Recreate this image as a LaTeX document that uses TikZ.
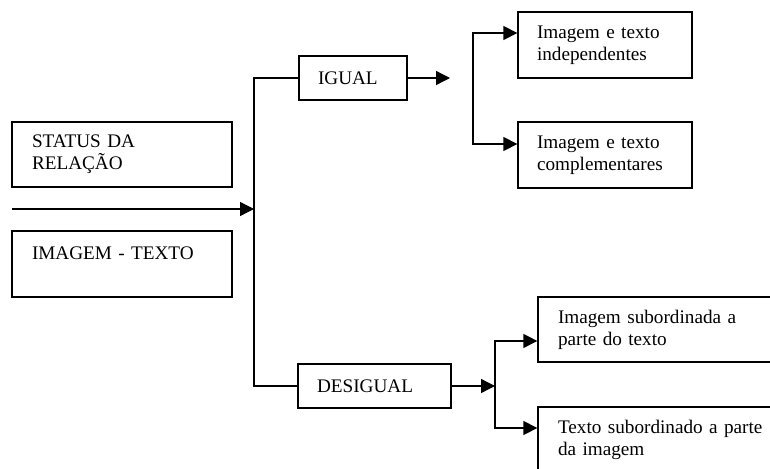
\documentclass[tikz,border=0pt]{standalone}
\usepackage{fontspec}
\setmainfont{Liberation Serif}
\usetikzlibrary{arrows.meta}
\begin{document}
\begin{tikzpicture}[x=0.75pt,y=-0.75pt,
  line width=1pt,
  font=\fontsize{14.4pt}{16.5pt}\selectfont,
  box/.style={draw, rectangle, align=left, inner xsep=15pt, inner ysep=2pt, minimum height=#1},
  box/.default=49.5pt,
  arr/.style={-{Triangle[length=10.5pt,width=10.5pt]}}]
\useasboundingbox (0,0) rectangle (770,468);
\clip (0,0) rectangle (770,468);
\fill[white] (0,0) rectangle (770,468);
% left boxes
\node[box=48.75pt, text width=135pt] (st) at (122,154.5) {STATUS DA\\RELAÇÃO};
\node[box, text width=135pt] (it) at (122,264) {IMAGEM - TEXTO\\~};
% middle boxes
\node[box=33pt, text width=52.5pt, inner xsep=14.25pt] (ig) at (353,78) {IGUAL};
\node[box=33pt, text width=86.25pt, inner xsep=14.25pt] (de) at (374.5,386) {DESIGUAL};
% right boxes
\node[box, text width=102pt, inner xsep=14.25pt] (b1) at (605,45) {Imagem e texto\\independentes};
\node[box, text width=102pt, inner xsep=14.25pt] (b2) at (605,155) {Imagem e texto\\complementares};
\node[box=48.75pt, text width=159pt] (b3) at (664,329.5) {Imagem subordinada a\\parte do texto};
\node[box, text width=159pt] (b4) at (664,440) {Texto subordinado a parte\\da imagem};
% connectors
\coordinate (start) at (12,209);
\coordinate (jn) at (254,209);
\coordinate (igend) at (450,78);
\coordinate (br1) at (473,100);
\coordinate (br2) at (495,386);
\draw[arr] (start) -- (jn);
\draw (ig.west) -| (jn) |- (de.west);
\draw[arr] (ig.east) -- (igend);
\draw[arr] (de.east) -- (br2);
\draw[arr] (br1) |- ([yshift=9pt]b1.west);
\draw[arr] (br1) |- ([yshift=8.25pt]b2.west);
\draw[arr] (br2) |- ([yshift=-8.6pt]b3.west);
\draw[arr] (br2) |- ([yshift=9pt]b4.west);
\end{tikzpicture}
\end{document}
